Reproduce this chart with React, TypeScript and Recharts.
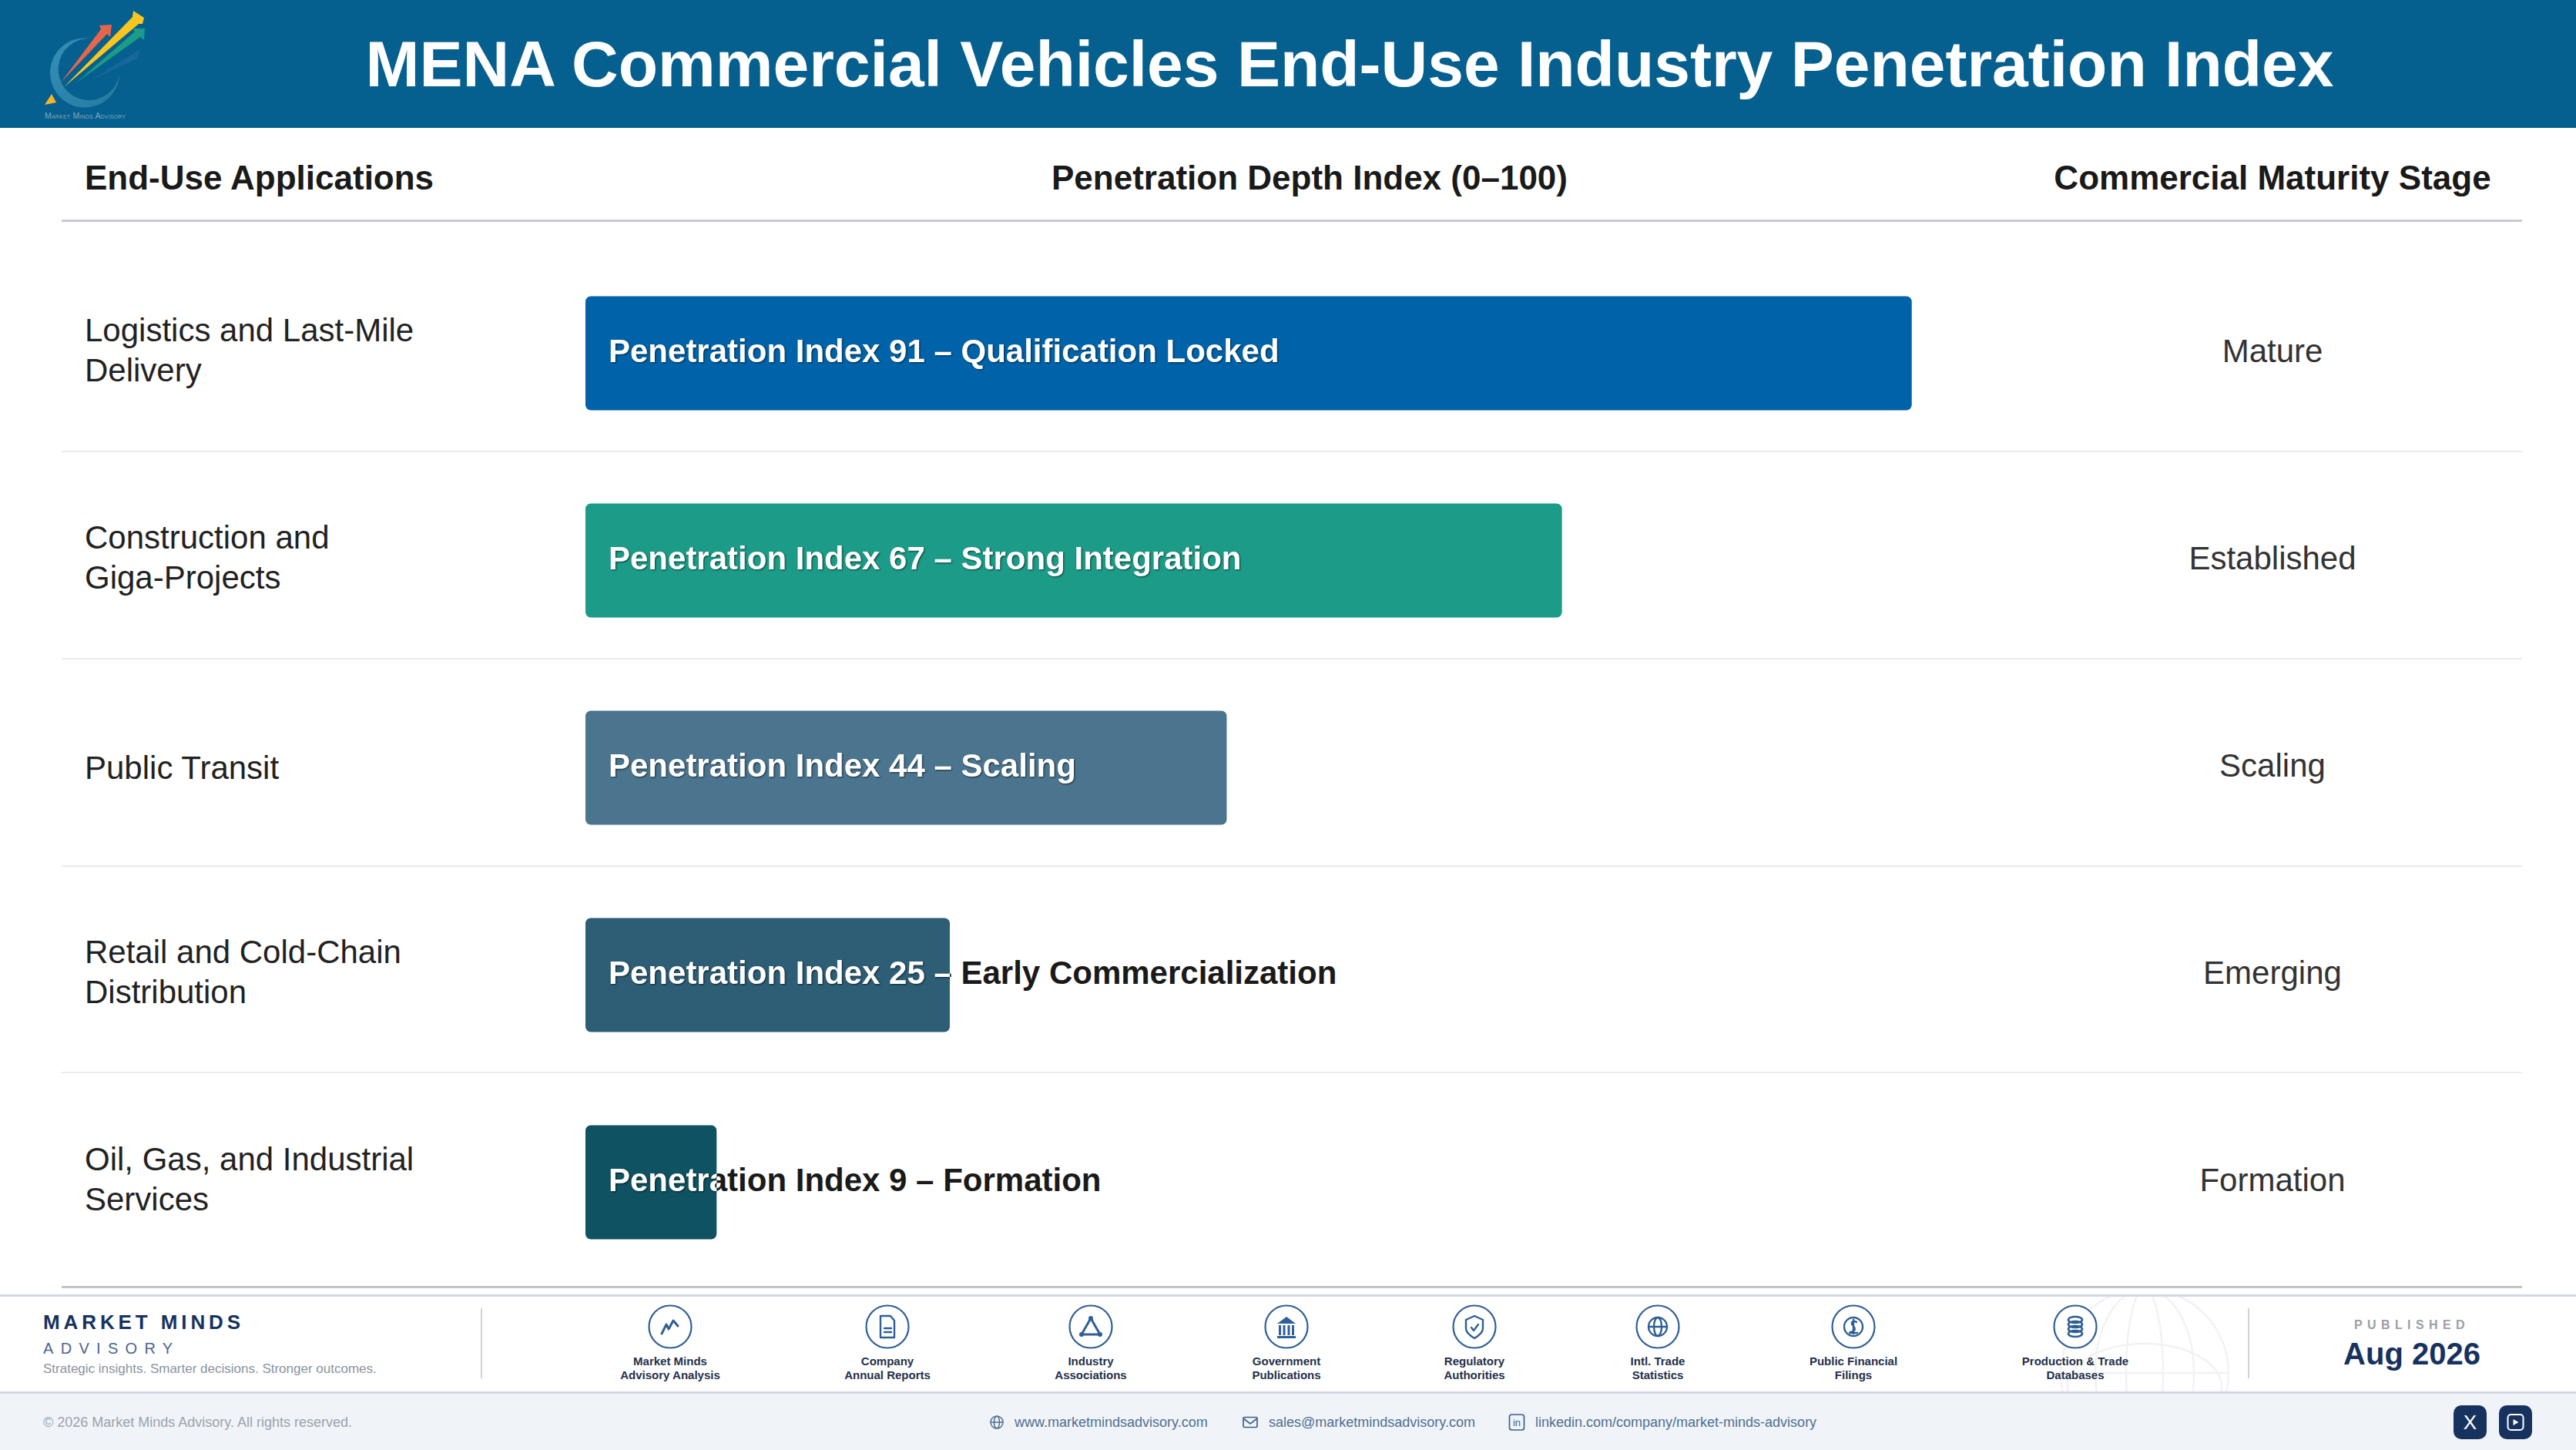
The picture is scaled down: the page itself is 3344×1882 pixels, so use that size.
import { BarChart, Bar, XAxis, YAxis, Cell, LabelList } from 'recharts';

const categories = [
  'Logistics and Last-Mile\nDelivery',
  'Construction and\nGiga-Projects',
  'Public Transit',
  'Retail and Cold-Chain\nDistribution',
  'Oil, Gas, and Industrial\nServices',
];
const penetration = [91, 67, 44, 25, 9];
const phases = ['Qualification Locked', 'Strong Integration', 'Scaling', 'Early Commercialization', 'Formation'];
const stages = ['Mature', 'Established', 'Scaling', 'Emerging', 'Formation'];
const barColors = ['#0063A9', '#1C9C88', '#4B758F', '#2D5E76', '#0F5261'];

const sources = [
  { icon: 'chart', lines: ['Market Minds', 'Advisory Analysis'], x: 870 },
  { icon: 'doc', lines: ['Company', 'Annual Reports'], x: 1152 },
  { icon: 'triangle', lines: ['Industry', 'Associations'], x: 1416 },
  { icon: 'bank', lines: ['Government', 'Publications'], x: 1670 },
  { icon: 'shield', lines: ['Regulatory', 'Authorities'], x: 1914 },
  { icon: 'globe', lines: ['Intl. Trade', 'Statistics'], x: 2152 },
  { icon: 'coin', lines: ['Public Financial', 'Filings'], x: 2406 },
  { icon: 'db', lines: ['Production & Trade', 'Databases'], x: 2694 },
];

const chartData = categories.map((name, i) => ({
  name,
  value: penetration[i],
  stage: stages[i],
  label: `Penetration Index ${penetration[i]} – ${phases[i]}`,
}));

const FONT = '"Liberation Sans", Arial, sans-serif';
const NAVY = '#17325F';
const ICON_BLUE = '#2F5F95';

function Txt({ x, y, size, color, bold, spacing, align = 'left', children }: any) {
  const tx = align === 'center' ? '-50%' : '0';
  return (
    <div
      style={{
        position: 'absolute',
        left: x,
        top: y - 50,
        height: 100,
        lineHeight: '100px',
        fontFamily: FONT,
        fontSize: size,
        fontWeight: bold ? 700 : 400,
        color,
        letterSpacing: spacing,
        whiteSpace: 'nowrap',
        transform: `translateX(${tx})`,
      }}
    >
      {children}
    </div>
  );
}

function Box({ x, y, w, h, bg, radius }: any) {
  return <div style={{ position: 'absolute', left: x, top: y, width: w, height: h, background: bg, borderRadius: radius }} />;
}

function Logo() {
  return (
    <svg width={240} height={166} style={{ position: 'absolute', left: 0, top: 0 }}>
      <defs>
        <linearGradient id="ring" x1="0" y1="0" x2="1" y2="1">
          <stop offset="0%" stopColor="#3F97BC" />
          <stop offset="100%" stopColor="#2A7FA5" />
        </linearGradient>
      </defs>
      <path d="M117 50 A45 45 0 1 0 155 97 A40 40 0 1 1 117 50 Z" fill="url(#ring)" opacity={0.85} />
      <polygon points="58,136 67,122 73,133" fill="#F7B32B" />
      <polygon points="79,107 131,38 129,33 145,32 143,48 139,44" fill="#E8654A" />
      <polygon points="83,113 172,22 173,14 187,23 185,31 180,31" fill="#FBC520" />
      <polygon points="98,108 175,41 173,37 188,37 187,52 182,48" fill="#1C9C88" />
      <polygon points="120,103 182,64 178,76" fill="#1E6BA3" opacity={0.7} />
      <text x={58} y={154} fontFamily={FONT} fontSize={10.5} fill="#7FA6BD" letterSpacing={0.2} style={{ fontVariant: 'small-caps' }}>
        Market Minds Advisory
      </text>
    </svg>
  );
}

function SourceIcon({ icon, x }: { icon: string; x: number }) {
  const s = { fill: 'none', stroke: ICON_BLUE, strokeWidth: 2.4, strokeLinejoin: 'round' as const, strokeLinecap: 'round' as const };
  return (
    <svg width={60} height={60} viewBox="-30 -30 60 60" style={{ position: 'absolute', left: x - 30, top: 1692 }}>
      <circle r={27.5} fill="#fff" stroke={ICON_BLUE} strokeWidth={2.2} />
      {icon === 'chart' && <path d="M-11 9 L-5 -3 L-2 3 L4 -8 L10 -1" {...s} strokeWidth={3} />}
      {icon === 'doc' && (
        <g {...s}>
          <path d="M-9 -14 H4 L9 -8 V14 H-9 Z" />
          <path d="M-4 2 H5 M-4 7 H5" />
        </g>
      )}
      {icon === 'triangle' && (
        <g {...s} strokeWidth={3}>
          <path d="M0 -11 L-12 10 H12 Z" />
          <circle cx={0} cy={-11} r={1.5} />
          <circle cx={-12} cy={10} r={1.5} />
          <circle cx={12} cy={10} r={1.5} />
        </g>
      )}
      {icon === 'bank' && (
        <g fill={ICON_BLUE}>
          <polygon points="0,-13 12,-4 -12,-4" />
          <rect x={-10} y={-2} width={3} height={13} />
          <rect x={-4.5} y={-2} width={3} height={13} />
          <rect x={1.5} y={-2} width={3} height={13} />
          <rect x={7} y={-2} width={3} height={13} />
          <rect x={-12} y={12} width={24} height={3} />
        </g>
      )}
      {icon === 'shield' && (
        <g {...s}>
          <path d="M0 -14 L11 -9 V2 C11 8 5 12 0 15 C-5 12 -11 8 -11 2 V-9 Z" />
          <path d="M-4 1 L-1 5 L5 -3" />
        </g>
      )}
      {icon === 'globe' && (
        <g {...s}>
          <circle r={12} />
          <ellipse rx={5} ry={12} />
          <path d="M-12 0 H12" />
        </g>
      )}
      {icon === 'coin' && (
        <g {...s}>
          <circle r={12} />
          <path d="M4 -6 C0 -9 -4 -6 -1 -2 C3 2 3 6 -4 7 M0 -9 V9 M-5 8 H5" />
        </g>
      )}
      {icon === 'db' && (
        <g {...s} strokeWidth={2.6}>
          <ellipse cy={-9} rx={9} ry={4} />
          <ellipse cy={-3} rx={9} ry={4} />
          <ellipse cy={3} rx={9} ry={4} />
          <ellipse cy={9} rx={9} ry={4} />
        </g>
      )}
    </svg>
  );
}

function Watermark() {
  return (
    <svg width={240} height={124} viewBox="2664 1683 240 124" style={{ position: 'absolute', left: 2664, top: 1683 }}>
      <g fill="none" stroke="#F1F2F5" strokeWidth={2.5}>
        <circle cx={2784} cy={1782} r={109} />
        <ellipse cx={2784} cy={1782} rx={64} ry={109} />
        <ellipse cx={2784} cy={1782} rx={24} ry={109} />
        <ellipse cx={2784} cy={1800} rx={100} ry={56} />
        <path d="M2675 1782 H2893" />
      </g>
    </svg>
  );
}

function CategoryTick({ y, payload }: any) {
  const lines = String(payload.value).split('\n');
  const first = lines.length === 1 ? y : y - 4 - 26;
  return (
    <text fontFamily={FONT} fontSize={42} fill="#222222" dominantBaseline="central">
      {lines.map((line, i) => (
        <tspan key={line} x={110} y={first + i * 52}>
          {line}
        </tspan>
      ))}
    </text>
  );
}

function StageTick({ y, payload }: any) {
  return (
    <text x={2950} y={y - 3} fontFamily={FONT} fontSize={42} fill="#333333" textAnchor="middle" dominantBaseline="central">
      {payload.value}
    </text>
  );
}

// label is white over the bar and dark where it runs past the bar end
function BarLabel({ x, y, width, height, value, index }: any) {
  const ty = y + height / 2 - 3;
  const common = { x: x + 30, y: ty, fontFamily: FONT, fontSize: 42, fontWeight: 700, dominantBaseline: 'central' as const };
  return (
    <g>
      <defs>
        <clipPath id={`inside-${index}`}>
          <rect x={x} y={y} width={width} height={height} />
        </clipPath>
        <clipPath id={`outside-${index}`}>
          <rect x={x + width} y={y} width={3344 - x - width} height={height} />
        </clipPath>
      </defs>
      <text {...common} fill="#1A1A1A" clipPath={`url(#outside-${index})`}>
        {value}
      </text>
      <g clipPath={`url(#inside-${index})`}>
        <text {...common} fill="#FFFFFF" style={{ filter: 'drop-shadow(1px 1px 1px rgba(0,0,0,0.6))' }}>
          {value}
        </text>
      </g>
    </g>
  );
}

export default function App() {
  return (
    <div style={{ position: 'absolute', left: 0, top: 0, width: 3344, height: 1882, background: '#fff', overflow: 'hidden' }}>
      {/* Header */}
      <Box x={0} y={0} w={3344} h={166} bg="#05608F" />
      <Logo />
      <Txt x={1752} y={83} size={84} color="#fff" bold align="center">
        MENA Commercial Vehicles End-Use Industry Penetration Index
      </Txt>

      {/* Column heads */}
      <Txt x={110} y={231} size={44} color="#1A1A1A" bold>End-Use Applications</Txt>
      <Txt x={1700} y={231} size={44} color="#1A1A1A" bold align="center">Penetration Depth Index (0–100)</Txt>
      <Txt x={2950} y={231} size={44} color="#1A1A1A" bold align="center">Commercial Maturity Stage</Txt>
      <Box x={80} y={284.5} w={3194} h={3} bg="#C8C9D3" />

      {/* Row separators */}
      {[585, 854, 1123, 1391].map(y => (
        <Box key={y} x={80} y={y} w={3194} h={2} bg="#EBEBEB" />
      ))}
      <Box x={80} y={1668.5} w={3194} h={3} bg="#C4C4C8" />

      {/* Chart */}
      <div style={{ position: 'absolute', left: 0, top: 0 }}>
        <BarChart
          width={3344}
          height={1882}
          data={chartData}
          layout="vertical"
          barCategoryGap={0}
          margin={{ top: 323.5, bottom: 213.5, left: 0, right: 0 }}
        >
          <XAxis type="number" domain={[0, 100]} hide />
          <YAxis yAxisId="left" type="category" dataKey="name" width={760} axisLine={false} tickLine={false} interval={0} tick={<CategoryTick />} />
          <YAxis yAxisId="right" orientation="right" type="category" dataKey="stage" width={692} axisLine={false} tickLine={false} interval={0} tick={<StageTick />} />
          <Bar yAxisId="left" dataKey="value" barSize={148} radius={7} isAnimationActive={false}>
            {chartData.map((d, i) => (
              <Cell key={d.name} fill={barColors[i]} />
            ))}
            <LabelList dataKey="label" content={<BarLabel />} />
          </Bar>
        </BarChart>
      </div>

      {/* Footer */}
      <Box x={0} y={1680} w={3344} h={3} bg="#D3D7E3" />
      <Watermark />
      <Box x={0} y={1806} w={3344} h={76} bg="#F0F4F9" />
      <Box x={0} y={1805.5} w={3344} h={3} bg="#D3D7E3" />
      <Txt x={56} y={1716} size={26} color={NAVY} bold spacing={4.9}>MARKET MINDS</Txt>
      <Txt x={56} y={1750} size={20} color="#4A6690" spacing={9.3}>ADVISORY</Txt>
      <Txt x={56} y={1777} size={17} color="#8A93A0">Strategic insights. Smarter decisions. Stronger outcomes.</Txt>
      <Box x={624} y={1698} w={2} h={91} bg="#D0D3DA" />
      <Box x={2918} y={1698} w={2} h={91} bg="#D0D3DA" />
      {sources.map(src => (
        <div key={src.icon}>
          <SourceIcon icon={src.icon} x={src.x} />
          <Txt x={src.x} y={1767} size={15} color="#24304A" bold align="center">{src.lines[0]}</Txt>
          <Txt x={src.x} y={1785} size={15} color="#24304A" bold align="center">{src.lines[1]}</Txt>
        </div>
      ))}
      <Txt x={3131} y={1720} size={16} color="#9A9FA8" bold spacing={6.4} align="center">PUBLISHED</Txt>
      <Txt x={3131} y={1757} size={40} color={NAVY} bold align="center">Aug 2026</Txt>

      <Txt x={56} y={1846} size={18} color="#9AA3AD">© 2026 Market Minds Advisory. All rights reserved.</Txt>
      <svg width={20} height={20} viewBox="-10 -10 20 20" style={{ position: 'absolute', left: 1284, top: 1836 }}>
        <g fill="none" stroke="#4E6E92" strokeWidth={1.5}>
          <circle r={8} />
          <ellipse rx={3.5} ry={8} />
          <path d="M-8 0 H8" />
        </g>
      </svg>
      <Txt x={1317} y={1846} size={18} color="#4E6E92">www.marketmindsadvisory.com</Txt>
      <svg width={20} height={20} viewBox="-10 -10 20 20" style={{ position: 'absolute', left: 1613, top: 1836 }}>
        <g fill="none" stroke="#3C5F8A" strokeWidth={1.7}>
          <rect x={-9} y={-6.5} width={18} height={13} rx={1.5} />
          <path d="M-9 -5 L0 2 L9 -5" />
        </g>
      </svg>
      <Txt x={1647} y={1846} size={18} color="#4E6E92">sales@marketmindsadvisory.com</Txt>
      <svg width={22} height={26} viewBox="-11 -13 22 26" style={{ position: 'absolute', left: 1958, top: 1833 }}>
        <rect x={-9.5} y={-10} width={19} height={20} rx={3} fill="none" stroke="#3C5F8A" strokeWidth={1.7} />
        <text x={0} y={5} textAnchor="middle" fontFamily={FONT} fontSize={13} fill="#3C5F8A">in</text>
      </svg>
      <Txt x={1993} y={1846} size={18} color="#4E6E92">linkedin.com/company/market-minds-advisory</Txt>
      <Box x={3185} y={1824} w={43} h={44} bg={NAVY} radius={10} />
      <Box x={3244} y={1824} w={43} h={44} bg={NAVY} radius={10} />
      <Txt x={3206.5} y={1846} size={26} color="#fff" align="center">X</Txt>
      <svg width={43} height={44} viewBox="-21.5 -22 43 44" style={{ position: 'absolute', left: 3244, top: 1824 }}>
        <rect x={-10} y={-10} width={20} height={20} rx={4} fill="none" stroke="#fff" strokeWidth={2} />
        <polygon points="-3,-4 4,0 -3,4" fill="#fff" />
      </svg>
    </div>
  );
}
